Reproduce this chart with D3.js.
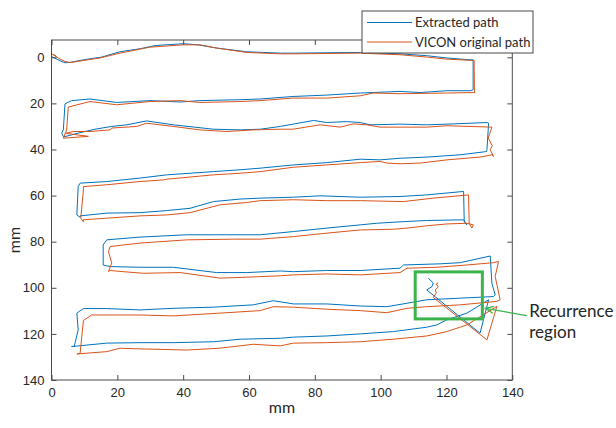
<!DOCTYPE html>
<html>
<head>
<meta charset="utf-8">
<script src="https://cdn.jsdelivr.net/npm/d3@7"></script>
<style>
  body { margin: 0; background: #fff; }
  svg { font-family: Lato, "Liberation Sans", sans-serif; }
</style>
</head>
<body>
<div id="chart"></div>
<script>
// axis ticks
var xTicks = [0, 20, 40, 60, 80, 100, 120, 140];
var yTicks = [0, 20, 40, 60, 80, 100, 120, 140];

var seriesNames = ["Extracted path", "VICON original path"];

// blue: extracted path [x, y] in mm
var extractedPath = [
  [0.2,-0.2],[2.6,1.5],[4.1,2.4],[6.1,2.1],[9.7,1.1],[15.3,-0.1],[20.8,-2.4],[26.9,-3.7],[31.5,-5.1],[40.1,-5.9],[44.5,-5.4],[50.2,-4.0],[59.3,-2.4],[69.5,-1.8],[73.4,-1.8],[93.8,-2.1],[105.9,-1.5],[114.0,-0.7],[120.1,0.3],[127.2,1.1],[128.1,1.1],
  [128.1,14.1],[127.2,14.5],[120.1,14.5],[112.0,15.3],[105.9,14.8],[93.8,15.5],[83.6,16.4],[73.4,17.0],[63.4,18.1],[57.3,18.4],[45.1,18.8],[39.1,19.4],[29.9,18.8],[19.8,19.6],[11.7,18.1],[6.1,18.8],[4.1,20.2],[3.6,31.5],[3.1,32.9],[3.6,34.4],
  [4.1,34.4],[8.1,32.9],[13.2,31.2],[18.3,30.0],[22.9,29.3],[28.9,27.6],[37.0,29.3],[49.2,31.2],[57.3,31.5],[63.4,31.2],[69.5,30.0],[79.6,27.4],[83.6,28.3],[89.7,27.9],[93.8,28.3],[96.8,29.3],[105.9,29.0],[114.0,29.3],[122.1,28.9],[132.3,28.3],[132.8,28.6],
  [132.3,40.1],[132.1,40.9],[124.2,42.3],[114.0,43.3],[105.9,43.8],[99.8,44.5],[93.8,44.2],[83.6,45.7],[73.5,46.7],[63.4,48.1],[57.3,48.8],[49.2,49.6],[35.0,51.0],[26.9,52.4],[16.8,53.9],[8.7,54.6],[8.1,56.1],[7.7,68.4],[8.7,69.4],
  [8.7,68.8],[16.8,67.6],[26.9,67.4],[35.0,66.5],[42.1,65.5],[49.2,62.6],[57.3,61.5],[63.4,61.1],[73.5,60.7],[81.6,60.1],[93.8,60.7],[105.9,60.4],[114.0,59.7],[125.2,58.2],
  [125.4,71.3],[126.2,72.7],[125.2,70.5],[114.0,70.8],[106.9,71.3],[98.8,72.0],[93.8,72.7],[83.6,74.1],[73.5,75.6],[63.4,77.0],[57.3,77.0],[41.1,77.0],[26.9,78.0],[16.8,79.2],[15.7,81.4],[15.7,90.1],[16.8,90.5],
  [18.3,90.8],[26.9,91.1],[37.0,91.1],[50.2,93.4],[59.3,93.4],[69.5,92.7],[73.5,93.0],[83.6,92.5],[93.8,92.5],[105.9,91.5],[106.9,90.1],[118.1,89.6],[124.2,89.1],[133.3,86.2],
  [133.8,98.0],[134.8,103.1],[134.3,103.8],[124.2,104.5],[114.0,105.2],[108.0,106.7],[101.9,108.2],[93.8,107.9],[83.6,107.0],[73.5,107.0],[67.4,105.6],[61.3,107.4],[49.2,108.4],[37.0,108.9],[26.9,109.6],[16.8,109.0],[9.7,109.0],[7.7,111.0],[8.1,118.3],[6.9,125.5],[6.1,125.5],
  [16.8,124.0],[26.9,123.8],[37.0,123.8],[49.2,123.4],[57.3,122.3],[69.5,121.9],[73.5,121.4],[83.6,120.9],[93.8,120.0],[103.9,119.0],[114.0,117.1],[117.1,116.1],[120.1,113.9],[126.2,111.0],[132.8,105.2],
  [130.2,119.7],[114.0,100.9],[115.6,99.5],[116.0,97.9],[115.0,96.6],[114.5,95.8]
];

// red: VICON original path [x, y] in mm
var viconPath = [
  [0.0,-1.5],[1.5,-0.4],[0.6,-1.1],[2.6,0.8],[4.1,1.8],[5.6,2.3],[9.7,1.4],[14.7,0.3],[20.8,-1.8],[29.9,-4.4],[40.1,-5.4],[45.1,-5.4],[50.2,-4.0],[59.3,-2.1],[69.5,-1.5],[73.5,-1.5],[93.8,-1.8],[105.9,-1.1],[114.0,-0.1],[120.1,0.8],[128.4,1.4],
  [128.5,15.1],[128.7,15.4],[128.1,15.3],[120.1,15.5],[105.9,15.8],[97.7,15.5],[93.8,16.7],[83.6,17.7],[73.4,17.7],[63.4,18.8],[57.3,19.2],[45.1,19.6],[39.1,18.8],[29.9,19.2],[19.8,20.6],[11.7,19.2],[5.1,21.6],[4.6,31.5],[3.6,35.1],[11.2,34.3],[4.4,33.0],[6.6,32.2],
  [11.7,32.2],[17.8,31.5],[18.3,30.7],[25.9,30.0],[28.9,28.6],[37.0,30.0],[45.1,31.5],[53.3,32.2],[61.3,31.5],[69.5,31.2],[73.4,31.2],[81.6,29.3],[87.7,30.3],[91.7,28.9],[95.8,29.3],[99.8,30.3],[105.9,30.3],[114.0,30.3],[120.1,29.7],[133.8,30.3],
  [132.7,35.0],[133.9,38.4],[133.3,40.1],[134.3,43.1],[133.8,42.3],[130.2,43.3],[120.1,44.5],[112.0,45.9],[105.9,46.2],[101.9,45.9],[99.8,45.2],[93.8,45.7],[83.6,46.7],[73.5,47.7],[63.4,49.6],[57.3,50.3],[49.2,51.0],[35.0,52.9],[34.0,53.2],[26.9,53.9],[16.8,55.3],[9.7,56.1],[9.7,57.5],[8.9,69.8],[9.7,71.3],
  [9.7,70.5],[16.8,69.8],[26.9,68.8],[35.0,68.4],[42.1,67.4],[51.2,64.0],[59.3,63.0],[63.4,62.2],[73.5,61.8],[83.6,62.2],[93.8,62.2],[106.9,62.6],[116.0,61.1],[126.7,59.7],
  [126.9,72.0],[127.7,74.1],[128.2,72.7],[126.2,72.0],[120.1,72.3],[114.0,73.1],[108.0,74.1],[103.9,74.6],[93.8,74.9],[83.6,76.3],[73.5,77.8],[63.4,78.9],[55.3,78.9],[41.1,79.2],[26.9,80.6],[17.8,82.1],[17.3,84.3],[18.3,89.3],[17.3,93.0],
  [17.8,92.5],[21.8,93.0],[27.9,93.7],[39.1,93.4],[51.2,95.8],[59.3,95.4],[69.5,94.8],[73.5,94.4],[83.6,94.0],[93.8,94.4],[105.9,93.4],[108.0,91.5],[117.1,91.1],[126.2,90.1],[134.3,89.1],[135.8,88.6],
  [134.8,95.1],[136.3,105.2],[135.3,105.9],[124.2,107.4],[114.0,108.2],[108.0,108.9],[101.9,110.8],[93.8,109.9],[83.6,109.3],[73.5,108.4],[67.4,108.2],[63.4,109.9],[53.3,110.8],[37.0,112.2],[26.9,111.8],[16.8,111.8],[12.2,111.8],[9.7,114.2],[9.2,121.2],[8.7,128.4],[7.7,128.7],
  [16.8,127.7],[20.8,126.2],[26.9,126.5],[41.1,127.0],[51.2,126.2],[61.3,124.5],[69.5,125.2],[73.5,124.0],[83.6,123.8],[93.8,123.4],[103.9,122.3],[114.0,120.9],[120.1,119.0],[126.2,116.1],[135.3,108.1],
  [132.3,122.6],[116.0,104.2],[116.9,102.2],[116.6,100.9],[117.5,99.6],[116.9,98.3],[117.5,97.9]
];

// annotation (data coords): box corners, arrow tail -> tip
var recurrenceBox = [[110.5, 93.1], [130.9, 113.5]];
var recurrenceArrow = [[144.4, 112.1], [131.8, 108.9]];
var recurrenceLabel = ["Recurrence", "region"];

var width = 616, height = 428;
var colors = ["#0072BD", "#D95319"];
var axisColor = "#4a4a4a", textColor = "#262626";

var x = d3.scaleLinear().domain([0, 140]).range([51.5, 512.3]);
var y = d3.scaleLinear().domain([-7.5, 140]).range([40, 380]);

var svg = d3.select("#chart").append("svg")
  .attr("width", width)
  .attr("height", height);

// paths
var line = d3.line()
  .x(function(d) { return x(d[0]); })
  .y(function(d) { return y(d[1]); });

[extractedPath, viconPath].forEach(function(p, i) {
  svg.append("path")
    .datum(p)
    .attr("fill", "none")
    .attr("stroke", colors[i])
    .attr("stroke-width", 1)
    .attr("stroke-linejoin", "round")
    .attr("d", line);
});

// axes (ticks pointing in, on all four sides)
function styleAxis(g) {
  g.select(".domain").remove();
  g.selectAll(".tick line").attr("stroke", axisColor);
  g.selectAll(".tick text").attr("fill", textColor).attr("font-size", "13px");
}

svg.append("g")
  .attr("transform", "translate(0," + y.range()[1] + ")")
  .call(d3.axisBottom(x).tickValues(xTicks).tickSizeInner(-5).tickSizeOuter(0).tickPadding(8))
  .call(styleAxis);

svg.append("g")
  .attr("transform", "translate(0," + y.range()[0] + ")")
  .call(d3.axisTop(x).tickValues(xTicks).tickSizeInner(-5).tickSizeOuter(0).tickFormat(""))
  .call(styleAxis);

svg.append("g")
  .attr("transform", "translate(" + x.range()[0] + ",0)")
  .call(d3.axisLeft(y).tickValues(yTicks).tickSizeInner(-5).tickSizeOuter(0).tickPadding(7))
  .call(styleAxis);

svg.append("g")
  .attr("transform", "translate(" + x.range()[1] + ",0)")
  .call(d3.axisRight(y).tickValues(yTicks).tickSizeInner(-5).tickSizeOuter(0).tickFormat(""))
  .call(styleAxis);

svg.append("rect")
  .attr("x", x.range()[0])
  .attr("y", y.range()[0])
  .attr("width", x.range()[1] - x.range()[0])
  .attr("height", y.range()[1] - y.range()[0])
  .attr("fill", "none")
  .attr("stroke", axisColor)
  .attr("stroke-width", 1);

// axis labels
svg.append("text")
  .attr("x", (x.range()[0] + x.range()[1]) / 2)
  .attr("y", 413)
  .attr("text-anchor", "middle")
  .attr("font-size", "16px")
  .attr("fill", textColor)
  .text("mm");

svg.append("text")
  .attr("transform", "translate(20,240) rotate(-90)")
  .attr("text-anchor", "middle")
  .attr("font-size", "16px")
  .attr("fill", textColor)
  .text("mm");

// recurrence box + arrow
var green = "#3cb44b";
svg.append("rect")
  .attr("x", x(recurrenceBox[0][0]))
  .attr("y", y(recurrenceBox[0][1]))
  .attr("width", x(recurrenceBox[1][0]) - x(recurrenceBox[0][0]))
  .attr("height", y(recurrenceBox[1][1]) - y(recurrenceBox[0][1]))
  .attr("fill", "none")
  .attr("stroke", green)
  .attr("stroke-width", 3);

var tail = [x(recurrenceArrow[0][0]), y(recurrenceArrow[0][1])]
 ,  tip = [x(recurrenceArrow[1][0]), y(recurrenceArrow[1][1])]
 ,  ang = Math.atan2(tail[1] - tip[1], tail[0] - tip[0])
 ,  headLen = 9, headAng = 0.4;

svg.append("line")
  .attr("x1", tail[0]).attr("y1", tail[1])
  .attr("x2", tip[0]).attr("y2", tip[1])
  .attr("stroke", green).attr("stroke-width", 1.3);

svg.append("path")
  .attr("d", "M" + (tip[0] + headLen * Math.cos(ang - headAng)) + "," + (tip[1] + headLen * Math.sin(ang - headAng)) +
    "L" + tip[0] + "," + tip[1] +
    "L" + (tip[0] + headLen * Math.cos(ang + headAng)) + "," + (tip[1] + headLen * Math.sin(ang + headAng)))
  .attr("fill", "none")
  .attr("stroke", green).attr("stroke-width", 1.3);

svg.selectAll(".rec-label").data(recurrenceLabel)
  .enter().append("text")
    .attr("class", "rec-label")
    .attr("x", tail[0] + 2.5)
    .attr("y", function(d, i) { return tail[1] + 1 + i * 21; })
    .attr("font-size", "17px")
    .attr("fill", textColor)
    .text(function(d) { return d; });

// legend
var legend = svg.append("g");
legend.append("rect")
  .attr("x", 362).attr("y", 11)
  .attr("width", 171).attr("height", 42)
  .attr("fill", "#fff")
  .attr("stroke", axisColor)
  .attr("stroke-width", 1);

var entry = legend.selectAll(".entry").data(seriesNames)
  .enter().append("g")
    .attr("class", "entry")
    .attr("transform", function(d, i) { return "translate(0," + (22.5 + i * 19.5) + ")"; });

entry.append("line")
  .attr("x1", 367).attr("x2", 412)
  .attr("stroke", function(d, i) { return colors[i]; })
  .attr("stroke-width", 1);

entry.append("text")
  .attr("x", 415)
  .attr("dy", "0.35em")
  .attr("font-size", "13px")
  .attr("fill", textColor)
  .text(function(d) { return d; });
</script>
</body>
</html>
